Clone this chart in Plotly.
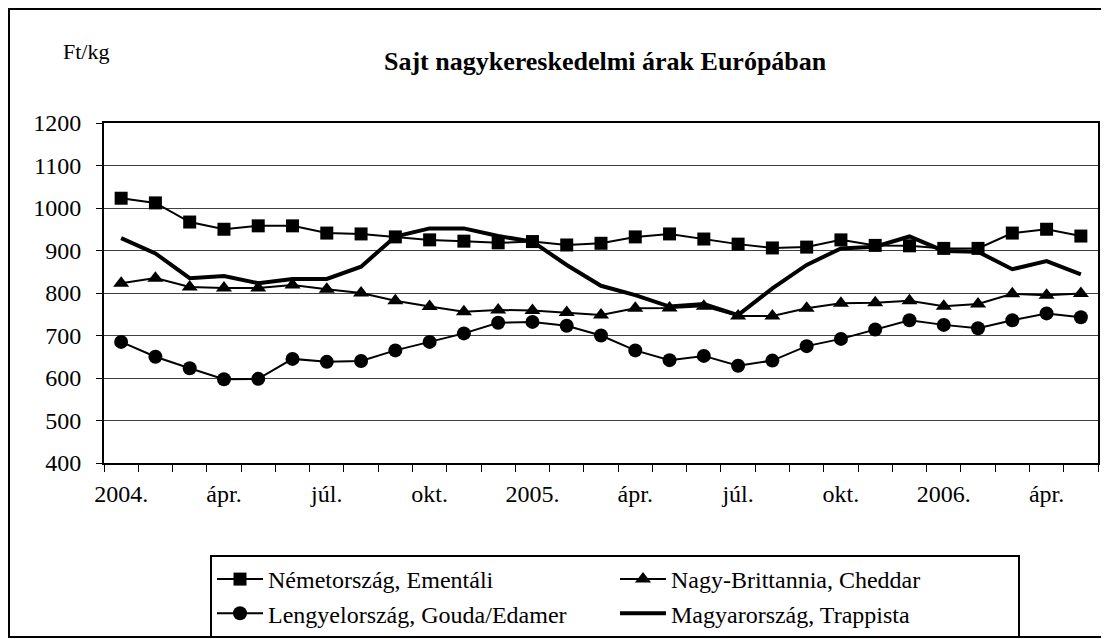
import plotly.graph_objects as go

months = list(range(29))  # 2004 Jan .. 2006 May
tick_idx = [0, 3, 6, 9, 12, 15, 18, 21, 24, 27]
tick_labels = ["2004.", "ápr.", "júl.", "okt.", "2005.", "ápr.", "júl.", "okt.", "2006.", "ápr."]

germany = [1023, 1012, 967, 950, 958, 958, 941, 939, 932, 925, 922, 918, 921, 913, 917,
           932, 939, 927, 915, 906, 908, 925, 912, 911, 905, 905, 941, 950, 934]
uk = [823, 835, 814, 812, 812, 819, 809, 800, 782, 768, 756, 760, 759, 754, 748,
      764, 765, 769, 746, 746, 764, 776, 777, 782, 769, 774, 798, 795, 799]
poland = [685, 650, 623, 597, 598, 645, 638, 640, 665, 685, 705, 730, 732, 723, 700,
          665, 642, 652, 629, 641, 675, 692, 714, 736, 725, 717, 736, 752, 743]
hungary = [929, 893, 835, 840, 823, 833, 833, 862, 933, 952, 952, 934, 921, 866, 817,
           795, 768, 774, 748, 811, 866, 905, 909, 933, 899, 897, 856, 875, 844]

names = ["Németország, Ementáli", "Nagy-Brittannia, Cheddar",
         "Lengyelország, Gouda/Edamer", "Magyarország, Trappista"]

FONT = '"Liberation Serif", "Times New Roman", serif'

fig = go.Figure()
fig.add_trace(go.Scatter(x=months, y=germany, name=names[0], mode="lines+markers",
                         line=dict(color="black", width=2),
                         marker=dict(symbol="square", size=13, color="black")))
fig.add_trace(go.Scatter(x=months, y=uk, name=names[1], mode="lines+markers",
                         line=dict(color="black", width=2),
                         marker=dict(symbol="triangle-up", size=14, color="black")))
fig.add_trace(go.Scatter(x=months, y=poland, name=names[2], mode="lines+markers",
                         line=dict(color="black", width=2),
                         marker=dict(symbol="circle", size=14, color="black")))
fig.add_trace(go.Scatter(x=months, y=hungary, name=names[3], mode="lines",
                         line=dict(color="black", width=4)))

OFF = 8  # page body margin
W, H = 1109 - OFF, 639 - OFF
L, T = 104 - OFF, 123 - OFF
R = W - (1098 - OFF)
B = H - (463 - OFF)
pw, ph = W - L - R, H - T - B

def px(x):
    return (x - OFF - L) / pw

def py(y):
    return (H - B - (y - OFF)) / ph

fig.update_layout(
    template="none",
    width=W, height=H,
    margin=dict(l=L, r=R, t=T, b=B, autoexpand=False),
    paper_bgcolor="white", plot_bgcolor="white",
    font=dict(family=FONT, size=24, color="black"),
    showlegend=True,
    legend=dict(orientation="h", x=px(210), y=py(555), xanchor="left", yanchor="top",
                bordercolor="black", borderwidth=2, bgcolor="white",
                font=dict(family=FONT, size=24, color="black"),
                entrywidth=342, entrywidthmode="pixels", itemwidth=46,
                tracegroupgap=0),
    xaxis=dict(range=[-0.5, 28.5], tickvals=tick_idx, ticktext=tick_labels,
               ticks="", showgrid=False, zeroline=False, automargin=False,
               showline=True, linecolor="black", linewidth=2, mirror=True,
               ticklabelstandoff=8,
               minor=dict(ticks="outside", tick0=-0.5, dtick=1, ticklen=7,
                          tickcolor="black", tickwidth=1, showgrid=False),
               tickfont=dict(family=FONT, size=24, color="black")),
    yaxis=dict(range=[400, 1200], dtick=100, tick0=400, ticks="outside", ticklen=6,
               tickcolor="black", tickwidth=1, automargin=False,
               showgrid=True, gridcolor="#404040", gridwidth=1, zeroline=False,
               showline=True, linecolor="black", linewidth=2, mirror=True,
               ticklabelstandoff=10,
               tickfont=dict(family=FONT, size=24, color="black")),
    shapes=[dict(type="rect", xref="paper", yref="paper",
                 x0=px(9), x1=px(1104), y0=py(637), y1=py(9),
                 line=dict(color="black", width=2), fillcolor="rgba(0,0,0,0)",
                 layer="below")],
    annotations=[
        dict(text="<b>Sajt nagykereskedelmi árak Európában</b>", xref="paper", yref="paper",
             x=px(605), y=py(62), xanchor="center", yanchor="middle", showarrow=False,
             font=dict(family=FONT, size=26, color="black")),
        dict(text="Ft/kg", xref="paper", yref="paper",
             x=px(61), y=py(51), xanchor="left", yanchor="middle", showarrow=False,
             font=dict(family=FONT, size=22, color="black")),
    ],
)

fig.write_html("out.html")
